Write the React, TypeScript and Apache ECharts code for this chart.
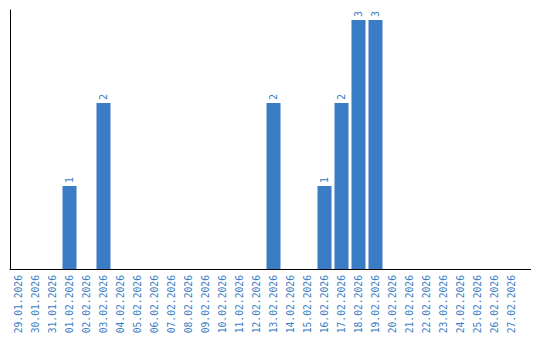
import React, { useEffect, useRef } from "react";
import * as echarts from "echarts";

const categories: string[] = [
  "29.01.2026", "30.01.2026", "31.01.2026", "01.02.2026", "02.02.2026",
  "03.02.2026", "04.02.2026", "05.02.2026", "06.02.2026", "07.02.2026",
  "08.02.2026", "09.02.2026", "10.02.2026", "11.02.2026", "12.02.2026",
  "13.02.2026", "14.02.2026", "15.02.2026", "16.02.2026", "17.02.2026",
  "18.02.2026", "19.02.2026", "20.02.2026", "21.02.2026", "22.02.2026",
  "23.02.2026", "24.02.2026", "25.02.2026", "26.02.2026", "27.02.2026",
];

const counts: (number | null)[] = [
  null, null, null, 1, null,
  2, null, null, null, null,
  null, null, null, null, null,
  2, null, null, 1, 2,
  3, 3, null, null, null,
  null, null, null, null, null,
];

const BLUE = "#3a7dc4";
const FONT = "'DejaVu Sans Mono', 'Liberation Mono', monospace";

export default function App() {
  const ref = useRef<HTMLDivElement>(null);
  useEffect(() => {
    if (!ref.current) return;
    const chart = echarts.init(ref.current, null, { renderer: "svg" });
    chart.setOption({
      animation: false,
      backgroundColor: "#ffffff",
      grid: { left: 10, top: 10, width: 510, height: 259 },
      xAxis: {
        type: "category",
        data: categories,
        axisLine: { show: true, lineStyle: { color: "#000", width: 1 } },
        axisTick: { show: false },
        axisLabel: {
          interval: 0,
          rotate: 90,
          color: BLUE,
          fontFamily: FONT,
          fontSize: 9.7,
          margin: 6,
        },
      },
      yAxis: {
        type: "value",
        min: 0,
        max: 3.12,
        axisLine: { show: true, lineStyle: { color: "#000", width: 1 } },
        axisTick: { show: false },
        axisLabel: { show: false },
        splitLine: { show: false },
      },
      graphic: [
        {
          type: "line",
          shape: { x1: 519, y1: 269.5, x2: 531, y2: 269.5 },
          style: { stroke: "#000", lineWidth: 1 },
        },
      ],
      series: [
        {
          type: "bar",
          data: counts,
          barWidth: 14,
          itemStyle: { color: BLUE },
          label: {
            show: true,
            position: "top",
            rotate: 90,
            align: "left",
            verticalAlign: "middle",
            distance: 3,
            color: BLUE,
            fontFamily: FONT,
            fontSize: 10,
          },
        },
      ],
    });
    return () => chart.dispose();
  }, []);
  return (
    <div
      ref={ref}
      style={{ position: "fixed", left: 0, top: 0, width: 540, height: 340 }}
    />
  );
}
